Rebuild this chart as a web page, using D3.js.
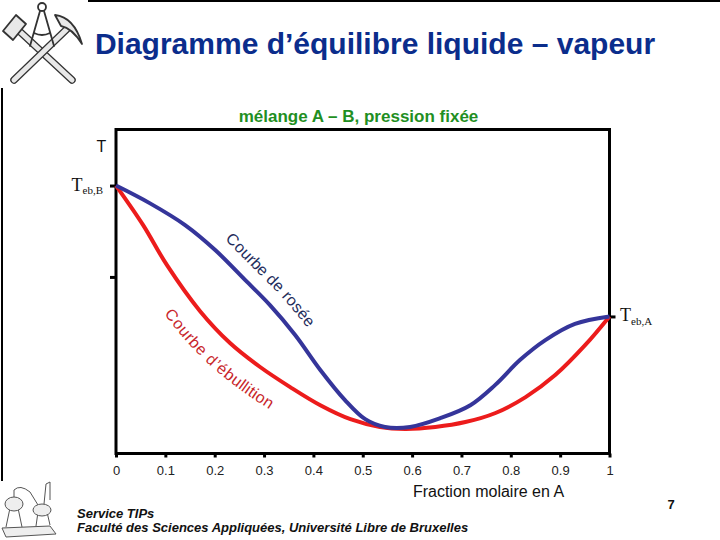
<!DOCTYPE html>
<html><head><meta charset="utf-8">
<script src="https://cdn.jsdelivr.net/npm/d3@7"></script>
<style>body{margin:0;background:#fff;} svg{display:block;}</style>
</head><body>
<script>
// ---------- data ----------
const xTickValues = [0, 0.1, 0.2, 0.3, 0.4, 0.5, 0.6, 0.7, 0.8, 0.9, 1];
const xTickLabels = ["0", "0.1", "0.2", "0.3", "0.4", "0.5", "0.6", "0.7", "0.8", "0.9", "1"];
// dew curve (courbe de rosée): mole fraction of A, temperature (arbitrary units)
const dewX = [0, 0.069, 0.140, 0.201, 0.262, 0.312, 0.363, 0.414, 0.464, 0.505, 0.545, 0.596, 0.657, 0.718, 0.768, 0.819, 0.870, 0.930, 1];
const dewT = [82.7, 77.2, 70.5, 62.8, 53.5, 45.8, 36.6, 25.8, 16.5, 10.6, 8.2, 8.2, 10.9, 14.9, 21.1, 28.9, 35.0, 40.0, 42.3];
// bubble curve (courbe d'ébullition)
const bubX = [0, 0.055, 0.103, 0.170, 0.231, 0.292, 0.353, 0.414, 0.475, 0.535, 0.586, 0.647, 0.708, 0.769, 0.830, 0.890, 0.951, 1];
const bubT = [82.7, 70.5, 58.2, 44.0, 34.1, 26.7, 20.5, 14.9, 10.6, 8.2, 7.6, 8.2, 9.7, 12.5, 17.4, 24.2, 33.5, 42.3];
const tebB = 82.7, tebA = 42.3;
const leftTicks = [82.7, 54.5];
const title = "Diagramme d\u2019équilibre liquide \u2013 vapeur";
const subtitle = "mélange A \u2013 B, pression fixée";
const xLabel = "Fraction molaire en A";
const dewLabel = "Courbe de rosée";
const bubLabel = "Courbe d\u2019ébullition";

// ---------- drawing ----------
const W = 720, H = 540;
const svg = d3.select("body").append("svg").attr("width", W).attr("height", H)
  .style("font-family", "Arial, 'Liberation Sans', sans-serif");

const x = d3.scaleLinear().domain([0, 1]).range([116, 609.5]);
const y = d3.scaleLinear().domain([0, 100]).range([453.5, 129.5]);

// slide frame lines
svg.append("line").attr("x1", 88).attr("x2", 720).attr("y1", 1).attr("y2", 1).attr("stroke", "#000").attr("stroke-width", 2);
svg.append("line").attr("x1", 2).attr("x2", 2).attr("y1", 88).attr("y2", 481).attr("stroke", "#000").attr("stroke-width", 2);

// logo (hammer & pick with compass)
const logo = svg.append("g").attr("fill", "none").attr("stroke-linecap", "round").attr("stroke-linejoin", "round");
function bar(x1, y1, x2, y2, w) {
  logo.append("line").attr("x1", x1).attr("y1", y1).attr("x2", x2).attr("y2", y2).attr("stroke", "#333").attr("stroke-width", w + 2.5);
  logo.append("line").attr("x1", x1).attr("y1", y1).attr("x2", x2).attr("y2", y2).attr("stroke", "#e8e8e8").attr("stroke-width", w);
}
bar(16, 28, 72, 80, 5);   // hammer handle
bar(68, 28, 14, 80, 5);   // pick handle
logo.append("path").attr("d", "M3,31 L16,15 L26,24 L13,40 Z").attr("fill", "#e8e8e8").attr("stroke", "#333").attr("stroke-width", 1.8);
logo.append("path").attr("d", "M55,15 Q74,17 82,44 Q72,28 61,26 Z").attr("fill", "#e8e8e8").attr("stroke", "#333").attr("stroke-width", 1.8);
logo.append("circle").attr("cx", 42).attr("cy", 7).attr("r", 4).attr("stroke", "#333").attr("stroke-width", 1.8);
logo.append("path").attr("d", "M40,11 L30,46 M44,11 L54,46 M34,33 Q42,37 50,33").attr("stroke", "#333").attr("stroke-width", 1.8);

// distillation apparatus (bottom-left)
const app = svg.append("g").attr("fill", "#eee").attr("stroke", "#555").attr("stroke-width", 1);
app.append("path").attr("d", "M2,528 L50,526 L56,534 L6,537 Z");
app.append("path").attr("d", "M6,527 L10,508 M22,527 L18,508 M36,526 L38,512 M50,525 L47,512").attr("fill", "none");
app.append("ellipse").attr("cx", 14).attr("cy", 504).attr("rx", 9).attr("ry", 7);
app.append("path").attr("d", "M14,497 L14,490 Q20,484 30,492 L38,505").attr("fill", "none");
app.append("ellipse").attr("cx", 42).attr("cy", 510).attr("rx", 9).attr("ry", 6);
app.append("path").attr("d", "M44,504 L46,484 L50,482 L50,500").attr("fill", "none");

// title
svg.append("text").attr("x", 375).attr("y", 54).attr("text-anchor", "middle")
  .attr("font-size", 30).attr("font-weight", "bold").attr("fill", "#0b2d8c").text(title);
svg.append("text").attr("x", 358.5).attr("y", 122).attr("text-anchor", "middle")
  .attr("font-size", 17).attr("font-weight", "bold").attr("fill", "#1f8f23").text(subtitle);

// frame box
svg.append("rect").attr("x", x(0)).attr("y", y(100)).attr("width", x(1) - x(0)).attr("height", y(0) - y(100))
  .attr("fill", "none").attr("stroke", "#000").attr("stroke-width", 3);

// bottom axis
const xa = svg.append("g").attr("transform", `translate(0,${y(0)})`)
  .call(d3.axisBottom(x).tickValues(xTickValues).tickFormat((d, i) => xTickLabels[i]).tickSize(4).tickPadding(8));
xa.select(".domain").remove();
xa.selectAll(".tick line").attr("stroke", "#000").attr("stroke-width", 3);
xa.selectAll(".tick text").attr("font-size", 13).attr("fill", "#222").attr("font-family", "Arial, 'Liberation Sans', sans-serif");

// left / right ticks
const la = svg.append("g").attr("transform", `translate(${x(0)},0)`)
  .call(d3.axisLeft(y).tickValues(leftTicks).tickFormat("").tickSize(6));
la.select(".domain").remove();
la.selectAll(".tick line").attr("stroke", "#000").attr("stroke-width", 3);
const ra = svg.append("g").attr("transform", `translate(${x(1)},0)`)
  .call(d3.axisRight(y).tickValues([tebA]).tickFormat("").tickSize(6));
ra.select(".domain").remove();
ra.selectAll(".tick line").attr("stroke", "#000").attr("stroke-width", 3);

// axis labels
svg.append("text").attr("x", 101.5).attr("y", 152).attr("text-anchor", "middle").attr("font-size", 16).attr("fill", "#111").text("T");
const tb = svg.append("text").attr("x", 103).attr("y", y(tebB) + 5).attr("text-anchor", "end")
  .attr("font-family", "'Liberation Serif', 'Times New Roman', serif").attr("font-size", 18).attr("fill", "#111");
tb.append("tspan").text("T");
tb.append("tspan").attr("font-size", 11).attr("dy", 3).text("eb,B");
const ta = svg.append("text").attr("x", 620).attr("y", y(tebA) + 5)
  .attr("font-family", "'Liberation Serif', 'Times New Roman', serif").attr("font-size", 18).attr("fill", "#111");
ta.append("tspan").text("T");
ta.append("tspan").attr("font-size", 11).attr("dy", 4).text("eb,A");

svg.append("text").attr("x", 488.5).attr("y", 497).attr("text-anchor", "middle").attr("font-size", 16).attr("fill", "#111").text(xLabel);

// curves
const line = d3.line().x(d => x(d[0])).y(d => y(d[1])).curve(d3.curveCatmullRom.alpha(0.5));
const dewData = dewX.map((v, i) => [v, dewT[i]]);
const bubData = bubX.map((v, i) => [v, bubT[i]]);
const bubPath = svg.append("path").attr("id", "bubPath").attr("d", line(bubData))
  .attr("fill", "none").attr("stroke", "#ec1c1c").attr("stroke-width", 4);
const dewPath = svg.append("path").attr("id", "dewPath").attr("d", line(dewData))
  .attr("fill", "none").attr("stroke", "#35359a").attr("stroke-width", 4);

function lengthAtX(node, px) {
  let lo = 0, hi = node.getTotalLength();
  for (let k = 0; k < 40; k++) {
    const mid = (lo + hi) / 2;
    if (node.getPointAtLength(mid).x < px) lo = mid; else hi = mid;
  }
  return lo;
}

svg.append("text").attr("dy", -14).attr("font-size", 16).attr("fill", "#1f2d5c")
  .append("textPath").attr("href", "#dewPath").attr("startOffset", lengthAtX(dewPath.node(), 215)).text(dewLabel);
svg.append("text").attr("dy", 30).attr("font-size", 16).attr("fill", "#c8262b")
  .append("textPath").attr("href", "#bubPath").attr("startOffset", lengthAtX(bubPath.node(), 188)).text(bubLabel);

// footer
svg.append("text").attr("x", 77).attr("y", 518).attr("font-size", 13).attr("font-weight", "bold").attr("font-style", "italic").attr("fill", "#111").text("Service TIPs");
svg.append("text").attr("x", 77).attr("y", 532).attr("font-size", 13).attr("font-weight", "bold").attr("font-style", "italic").attr("fill", "#111").text("Faculté des Sciences Appliquées, Université Libre de Bruxelles");
svg.append("text").attr("x", 671).attr("y", 509).attr("text-anchor", "middle").attr("font-size", 13).attr("font-weight", "bold").attr("fill", "#111").text("7");
</script>
</body></html>
